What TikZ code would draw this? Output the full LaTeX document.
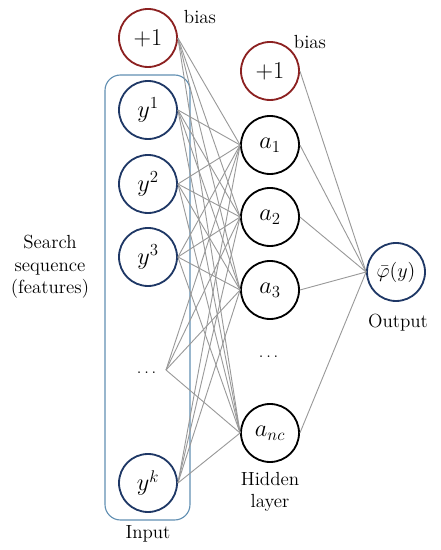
\documentclass[tikz,border=0pt]{standalone}
\usepackage{amsmath, amssymb}
\usepackage{xcolor}
\usepackage{tikz}
\usetikzlibrary{arrows.meta, positioning, calc}
\definecolor{darkred}{rgb}{0.55, 0.13, 0.13}
\definecolor{navy}{rgb}{0.12, 0.22, 0.40}
\definecolor{steelblue}{rgb}{0.38, 0.56, 0.70}
\definecolor{edgegray}{rgb}{0.60, 0.60, 0.60}

\begin{document}
\begin{tikzpicture}[
        neuron/.style={circle, draw, line width=1.3pt, minimum size=1.45cm, inner sep=0pt, font=\LARGE},
        link/.style={edgegray, line width=0.65pt},
        label/.style={font=\fontsize{13.5}{16}\selectfont, align=center}]
        \useasboundingbox (0,0) rectangle (11,13.75);
        % Input box
        \draw [steelblue, line width=0.8pt, rounded corners=11pt] (2.625,0.75) rectangle (4.75,11.875);
        % Input layer
        \node [neuron, darkred] (bin) at (3.7,12.8) {\color{black}$+1$};
        \node [neuron, navy] (y1) at (3.7,11.0) {\color{black}$y^{1}$};
        \node [neuron, navy] (y2) at (3.7,9.15) {\color{black}$y^{2}$};
        \node [neuron, navy] (y3) at (3.7,7.325) {\color{black}$y^{3}$};
        \node [font=\large] (idots) at (3.7,4.425) {$\dots$};
        \coordinate (ihub) at (4.15,4.5);
        \node [neuron, navy] (yk) at (3.7,1.675) {\color{black}$y^{k}$};
        % Hidden layer
        \node [neuron, darkred] (hb) at (6.75,11.975) {\color{black}$+1$};
        \node [neuron] (a1) at (6.75,10.125) {$a_{1}$};
        \node [neuron] (a2) at (6.75,8.325) {$a_{2}$};
        \node [neuron] (a3) at (6.75,6.5) {$a_{3}$};
        \node [font=\large] (hdots) at (6.75,4.825) {$\dots$};
        \node [neuron] (anc) at (6.75,2.925) {$a_{nc}$};
        % Output
        \node [neuron, navy, font=\Large] (out) at (9.9,6.95) {\color{black}$\bar{\varphi}(y)$};
        % Links
        \foreach \i in {bin,y1,y2,y3,yk}
            \foreach \j in {a1,a2,a3,anc}
                \draw [link] (\i.east) -- (\j.west);
        \foreach \j in {a1,a2,a3,anc}
            \draw [link] (ihub) -- (\j.west);
        \foreach \j in {hb,a1,a2,a3,anc}
            \draw [link] (\j.east) -- (out.west);
        % Labels
        \node [label] (bias1) at (5.0,13.325) {bias};
        \node [label] (bias2) at (7.75,12.7) {bias};
        \node [label] (seq) at (1.25,7.075) {Search\\sequence\\(features)};
        \node [label] (inlab) at (3.7,0.4) {Input};
        \node [label] (hidlab) at (6.75,1.45) {Hidden\\layer};
        \node [label] (outlab) at (9.95,5.675) {Output};
    \end{tikzpicture}
\end{document}
